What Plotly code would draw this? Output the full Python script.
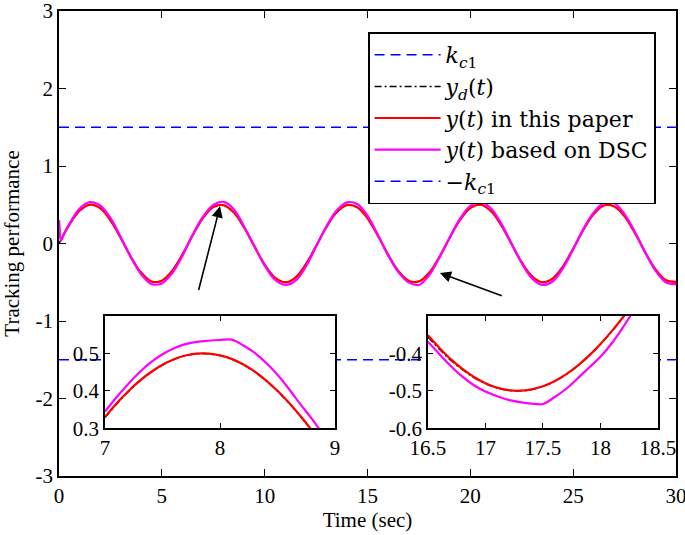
import plotly.graph_objects as go

# ---------------- data ----------------
t_main = [0, 0.1, 0.25, 0.5, 1.0, 1.5, 2.0, 2.5, 3.0, 3.5, 4.0, 4.5, 5.0, 5.5, 6.0,
          6.5, 7.0, 7.5, 8.0, 8.5, 9.0, 9.5, 10.0, 10.5, 11.0, 11.5, 12.0, 12.5,
          13.0, 13.5, 14.0, 14.5, 15.0, 15.5, 16.0, 16.5, 17.0, 17.5, 18.0, 18.5,
          19.0, 19.5, 20.0, 20.5, 21.0, 21.5, 22.0, 22.5, 23.0, 23.5, 24.0, 24.5,
          25.0, 25.5, 26.0, 26.5, 27.0, 27.5, 28.0, 28.5, 29.0, 29.5, 30.0]

yd_main = [0.0, 0.050, 0.124, 0.240, 0.421, 0.499, 0.455, 0.299, 0.071, -0.175,
           -0.378, -0.489, -0.479, -0.353, -0.140, 0.108, 0.328, 0.469, 0.495,
           0.399, 0.206, -0.038, -0.272, -0.440, -0.500, -0.438, -0.268, -0.033,
           0.210, 0.402, 0.495, 0.467, 0.325, 0.103, -0.144, -0.356, -0.481,
           -0.488, -0.376, -0.171, 0.075, 0.303, 0.456, 0.499, 0.418, 0.236,
           -0.004, -0.244, -0.423, -0.499, -0.453, -0.296, -0.066, 0.179, 0.381,
           0.490, 0.478, 0.350, 0.135, -0.112, -0.332, -0.471, -0.494]

y_paper_main = [0.30, 0.055, 0.125, 0.241, 0.422, 0.500, 0.456, 0.300, 0.072, -0.174,
                -0.378, -0.490, -0.480, -0.354, -0.141, 0.108, 0.329, 0.470, 0.496,
                0.400, 0.207, -0.037, -0.272, -0.441, -0.501, -0.439, -0.269, -0.034,
                0.210, 0.403, 0.496, 0.468, 0.326, 0.104, -0.143, -0.355, -0.481,
                -0.489, -0.377, -0.172, 0.075, 0.304, 0.457, 0.500, 0.419, 0.237,
                -0.003, -0.244, -0.424, -0.500, -0.454, -0.297, -0.067, 0.179, 0.382,
                0.491, 0.479, 0.351, 0.136, -0.111, -0.332, -0.472, -0.495]

y_dsc_main = [0.30, 0.04, 0.13, 0.25, 0.45, 0.534, 0.49, 0.33, 0.085, -0.18,
              -0.40, -0.522, -0.515, -0.385, -0.16, 0.11, 0.345, 0.497, 0.537,
              0.443, 0.22, -0.03, -0.285, -0.468, -0.535, -0.48, -0.30, -0.04,
              0.22, 0.425, 0.53, 0.51, 0.36, 0.115, -0.15, -0.369, -0.502,
              -0.535, -0.409, -0.18, 0.08, 0.32, 0.485, 0.535, 0.455, 0.26,
              0.0, -0.255, -0.45, -0.534, -0.49, -0.32, -0.075, 0.19, 0.40,
              0.524, 0.52, 0.38, 0.15, -0.115, -0.35, -0.50, -0.525]

kc1 = 1.5
t_span = [0, 30]

# zoom window 1 (around the peak near t = 8)
t_z1 = [7.0, 7.1, 7.2, 7.3, 7.4, 7.5, 7.6, 7.7, 7.8, 7.9, 8.0,
        8.1, 8.2, 8.3, 8.4, 8.5, 8.6, 8.7, 8.8, 8.9, 9.0]
yd_z1 = [0.3285, 0.3645, 0.3969, 0.4252, 0.4494, 0.4690, 0.4840, 0.4941, 0.4993,
         0.4994, 0.4947, 0.4850, 0.4704, 0.4511, 0.4273, 0.3992, 0.3672, 0.3315,
         0.2924, 0.2505, 0.2061]
y_paper_z1 = [0.3305, 0.3662, 0.3984, 0.4265, 0.4504, 0.4698, 0.4846, 0.4945, 0.4995,
              0.4996, 0.4950, 0.4855, 0.4710, 0.4519, 0.4282, 0.4002, 0.3684, 0.3328,
              0.2938, 0.2520, 0.2077]
y_dsc_z1 = [0.345, 0.383, 0.418, 0.450, 0.477, 0.498, 0.514, 0.525, 0.531, 0.534,
            0.536, 0.537, 0.522, 0.502, 0.475, 0.443, 0.405, 0.364, 0.325, 0.280,
            0.220]

# zoom window 2 (around the trough near t = 17.3)
t_z2 = [16.5, 16.6, 16.7, 16.8, 16.9, 17.0, 17.1, 17.2, 17.3, 17.4, 17.5,
        17.6, 17.7, 17.8, 17.9, 18.0, 18.1, 18.2, 18.3, 18.4, 18.5]
yd_z2 = [-0.3559, -0.3890, -0.4189, -0.4435, -0.4645, -0.4807, -0.4921, -0.4985,
         -0.4999, -0.4963, -0.4878, -0.4744, -0.4563, -0.4336, -0.4066, -0.3755,
         -0.3407, -0.3025, -0.2612, -0.2173, -0.1713]
y_paper_z2 = [-0.3515, -0.3852, -0.4158, -0.4412, -0.4628, -0.4795, -0.4913, -0.4980,
              -0.4996, -0.4961, -0.4876, -0.4741, -0.4558, -0.4330, -0.4058, -0.3746,
              -0.3397, -0.3014, -0.2600, -0.2160, -0.1700]
y_dsc_z2 = [-0.369, -0.402, -0.434, -0.462, -0.485, -0.502, -0.514, -0.524, -0.530,
            -0.534, -0.535, -0.517, -0.495, -0.467, -0.438, -0.409, -0.372, -0.328,
            -0.280, -0.230, -0.180]

main_xticks = [0, 5, 10, 15, 20, 25, 30]
main_yticks = [-3, -2, -1, 0, 1, 2, 3]
main_ytext = ["-3", "-2", "-1", "0", "1", "2", "3"]
z1_xticks = [7, 8, 9]
z1_yticks = [0.3, 0.4, 0.5]
z1_ytext = ["0.3", "0.4", "0.5"]
z2_xticks = [16.5, 17, 17.5, 18, 18.5]
z2_yticks = [-0.6, -0.5, -0.4]
z2_ytext = ["-0.6", "-0.5", "-0.4"]

legend_names = ["<i>k</i><sub><i>c</i>1</sub>",
                "<i>y<sub>d</sub></i>(<i>t</i>)",
                "<i>y</i>(<i>t</i>) in this paper",
                "<i>y</i>(<i>t</i>) based on DSC",
                "\u2212<i>k</i><sub><i>c</i>1</sub>"]

# arrows (head point, tail point) in data units of the main axes
arrow1 = dict(x=7.83, y=0.48, ax=6.77, ay=-0.62)
arrow2 = dict(x=18.52, y=-0.38, ax=21.6, ay=-0.68)

# ---------------- styling ----------------
SERIF = "Liberation Serif, Times New Roman, Times, serif"
LEG_FONT = "DejaVu Serif, Liberation Serif, serif"
BLUE = "#0000FF"
RED = "#FF0000"
MAG = "#FF00FF"
DASH_BLUE = "10px,6px"
DASH_DOT = "7px,3px,2px,3px"

fig = go.Figure()

def add_set(t, yd, yp, yds, xa, ya, legend):
    fig.add_trace(go.Scatter(x=t, y=yd, mode="lines", name=legend_names[1],
                             line=dict(color="black", width=1.5, dash=DASH_DOT, shape="spline"),
                             xaxis=xa, yaxis=ya, showlegend=legend))
    fig.add_trace(go.Scatter(x=t, y=yp, mode="lines", name=legend_names[2],
                             line=dict(color=RED, width=2.2, shape="spline"),
                             xaxis=xa, yaxis=ya, showlegend=legend))
    fig.add_trace(go.Scatter(x=t, y=yds, mode="lines", name=legend_names[3],
                             line=dict(color=MAG, width=2.2, shape="spline"),
                             xaxis=xa, yaxis=ya, showlegend=legend))

# main plot
fig.add_trace(go.Scatter(x=t_span, y=[kc1, kc1], mode="lines", name=legend_names[0],
                         line=dict(color=BLUE, width=1.6, dash=DASH_BLUE)))
add_set(t_main, yd_main, y_paper_main, y_dsc_main, "x", "y", True)
fig.add_trace(go.Scatter(x=t_span, y=[-kc1, -kc1], mode="lines", name=legend_names[4],
                         line=dict(color=BLUE, width=1.6, dash=DASH_BLUE)))

# insets
add_set(t_z1, yd_z1, y_paper_z1, y_dsc_z1, "x2", "y2", False)
add_set(t_z2, yd_z2, y_paper_z2, y_dsc_z2, "x3", "y3", False)

axis_common = dict(showline=True, linecolor="black", linewidth=1.6, mirror="ticks",
                   ticks="inside", tickcolor="black", tickwidth=1.4, showgrid=False,
                   zeroline=False, automargin=False, ticklabeloverflow="allow",
                   tickfont=dict(family=SERIF, size=21, color="black"))

fig.update_layout(
    width=685, height=535,
    margin=dict(l=59, r=9, t=11, b=59),
    paper_bgcolor="white", plot_bgcolor="white",
    font=dict(family=SERIF, color="black"),
    xaxis=dict(range=[0, 30], tickvals=main_xticks, ticklen=7,
               title=dict(text="Time (sec)", font=dict(family=SERIF, size=21), standoff=4),
               **axis_common),
    yaxis=dict(range=[-3, 3], tickvals=main_yticks, ticktext=main_ytext, ticklen=7,
               title=dict(text="Tracking performance", font=dict(family=SERIF, size=21), standoff=11),
               **axis_common),
    xaxis2=dict(domain=[0.0746, 0.4473], anchor="y2", range=[7, 9], tickvals=z1_xticks,
                ticklen=5, **axis_common),
    yaxis2=dict(domain=[0.1026, 0.344], anchor="x2", range=[0.3, 0.6], tickvals=z1_yticks,
                ticktext=z1_ytext, ticklen=5, **axis_common),
    xaxis3=dict(domain=[0.598, 0.9708], anchor="y3", range=[16.5, 18.5], tickvals=z2_xticks,
                ticklen=5, **axis_common),
    yaxis3=dict(domain=[0.1026, 0.344], anchor="x3", range=[-0.6, -0.3], tickvals=z2_yticks,
                ticktext=z2_ytext, ticklen=5, **axis_common),
    legend=dict(x=0.9676, y=0.954, xanchor="right", yanchor="top",
                bgcolor="white", bordercolor="black", borderwidth=1.6,
                font=dict(family=LEG_FONT, size=22, color="black"),
                tracegroupgap=0, itemwidth=66),
    showlegend=True,
)

for a in (arrow1, arrow2):
    fig.add_annotation(x=a["x"], y=a["y"], ax=a["ax"], ay=a["ay"], xref="x", yref="y",
                       axref="x", ayref="y", showarrow=True, arrowhead=2, arrowsize=1.4,
                       arrowwidth=1.6, arrowcolor="black", text="")

# the page's default 8px body margin would shift the figure; remove it
fig.write_html("out.html", config={"displayModeBar": False},
               post_script="document.body.style.margin='0px';")
